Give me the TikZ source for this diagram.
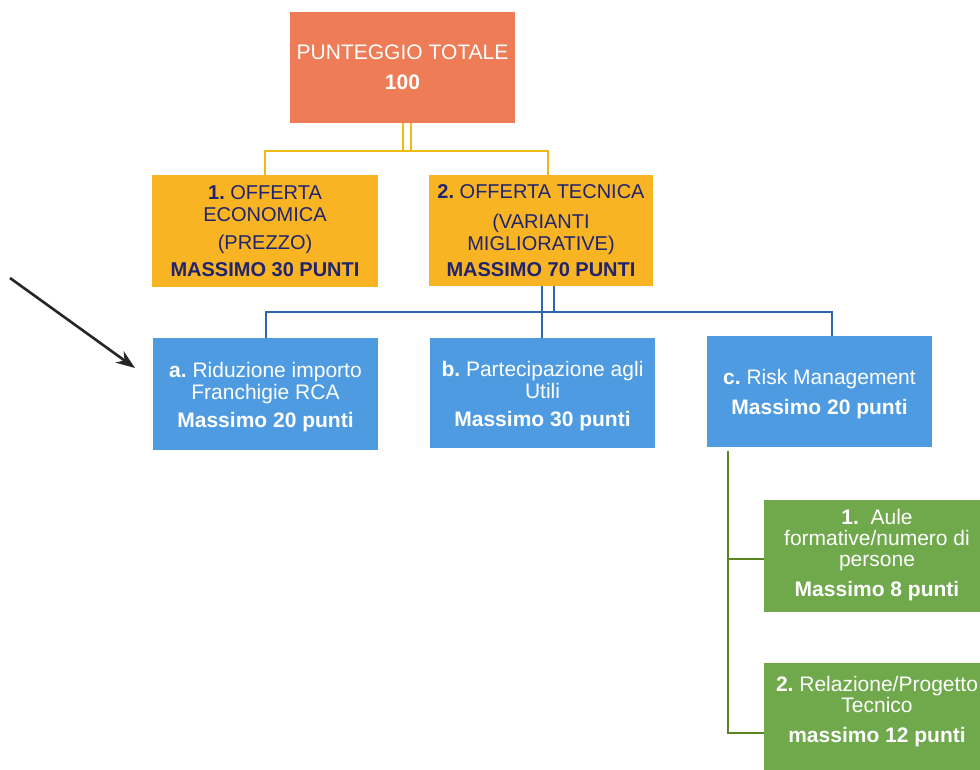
\documentclass[tikz,border=0pt]{standalone}
\usepackage{fontspec}
\setmainfont{Liberation Sans}
\usetikzlibrary{arrows.meta}
\definecolor{totc}{RGB}{238,124,86}
\definecolor{ambc}{RGB}{248,180,34}
\definecolor{navyc}{RGB}{32,36,112}
\definecolor{bluec}{RGB}{78,155,226}
\definecolor{greenc}{RGB}{112,168,76}
\definecolor{goldl}{RGB}{240,186,20}
\definecolor{bluel}{RGB}{44,104,176}
\definecolor{greenl}{RGB}{92,132,32}
\begin{document}
\frenchspacing
\begin{tikzpicture}[x=1pt,y=-1pt,
  box/.style={rectangle, inner sep=0pt, align=center, minimum width=225pt, minimum height=111pt},
  topbox/.style={box, fill=totc, text=white, font=\fontsize{21}{22}\selectfont},
  ambbox/.style={box, fill=ambc, text=navyc, font=\fontsize{20}{22}\selectfont},
  bluebox/.style={box, fill=bluec},
  greenbox/.style={box, fill=greenc, minimum width=226pt},
  whitetext/.style={inner sep=0pt, align=center, text=white, font=\fontsize{21}{22}\selectfont},
  goldline/.style={draw=goldl, line width=2.2pt},
  goldthin/.style={draw=goldl, line width=1.6pt},
  blueline/.style={draw=bluel, line width=2pt},
  greenline/.style={draw=greenl, line width=2.4pt}]
\useasboundingbox (0,0) rectangle (980,770);
\fill[white] (0,0) rectangle (980,770);

\node[topbox] (tot) at (402.5,67.5) {PUNTEGGIO TOTALE\\[8pt]\textbf{100}};
\node[ambbox, minimum width=226pt, minimum height=112pt] (o1) at (265,231) {\textbf{1.} OFFERTA\\ECONOMICA\\[6pt](PREZZO)\\[5pt]\textbf{MASSIMO 30 PUNTI}};
\node[ambbox, minimum width=224pt] (o2) at (541,230.5) {\textbf{2.} OFFERTA TECNICA\\[8pt](VARIANTI\\MIGLIORATIVE)\\[4pt]\textbf{MASSIMO 70 PUNTI}};

\node[bluebox, minimum height=112pt] (a) at (265.5,394) {};
\node[whitetext] (at) at ([yshift=-3pt]a.center) {\textbf{a.} Riduzione importo\\Franchigie RCA\\[6pt]\textbf{Massimo 20 punti}};
\node[bluebox, minimum height=110pt] (b) at (542.5,393) {};
\node[whitetext] (bt) at ([yshift=-3pt]b.center) {\textbf{b.} Partecipazione agli\\Utili\\[6pt]\textbf{Massimo 30 punti}};
\node[bluebox] (c) at (819.5,391.5) {};
\node[whitetext] (ct) at ([yshift=-3pt]c.center) {\textbf{c.} Risk Management\\[8pt]\textbf{Massimo 20 punti}};

\node[greenbox, minimum height=112pt] (g1) at (877,556) {};
\node[whitetext, font=\fontsize{21}{21}\selectfont] (g1t) at ([yshift=1pt]g1.center) {\textbf{1.}\ \ Aule\\formative/numero di\\persone\\[9pt]\textbf{Massimo 8 punti}};
\node[greenbox, minimum height=112pt] (g2) at (877,719) {};
\node[whitetext, font=\fontsize{21}{21}\selectfont] (g2t) at ([yshift=7pt]g2.center) {\textbf{2.} Relazione/Progetto\\Tecnico\\[9pt]\textbf{massimo 12 punti}};

% gold connectors
\coordinate (gj) at (0,151);
\draw[goldthin] ([xshift=0.5pt]tot.south) -- ([xshift=0.5pt]tot.south |- gj);
\draw[goldthin] ([xshift=8.5pt]tot.south) -- ([xshift=8.5pt]tot.south |- gj);
\draw[goldline] (o1.north) |- ([xshift=7pt]o2.north |- gj) -- ([xshift=7pt]o2.north);

% blue connectors
\coordinate (bj) at (0,312);
\draw[blueline] ([xshift=1pt]o2.south) -- ([xshift=1pt]o2.south |- b.north);
\draw[blueline] ([xshift=13pt]o2.south) -- ([xshift=13pt]o2.south |- bj);
\draw[blueline] (a.north) |- ([xshift=12.5pt]c.north |- bj) -- ([xshift=12.5pt]c.north);

% green connectors
\coordinate (gv) at ([xshift=21pt,yshift=-4pt]c.south west);
\coordinate (g1s) at ([yshift=-3pt]g1.west);
\coordinate (g2s) at ([yshift=-14pt]g2.west);
\draw[greenline] (gv) |- (g2s);
\draw[greenline] (gv |- g1s) -- (g1s);

% arrow
\coordinate (as) at (10,278);
\coordinate (ae) at (135,368);
\draw[-{Stealth[length=19pt,width=14pt]}, line width=2.6pt, black!85] (as) -- (ae);
\end{tikzpicture}
\end{document}
